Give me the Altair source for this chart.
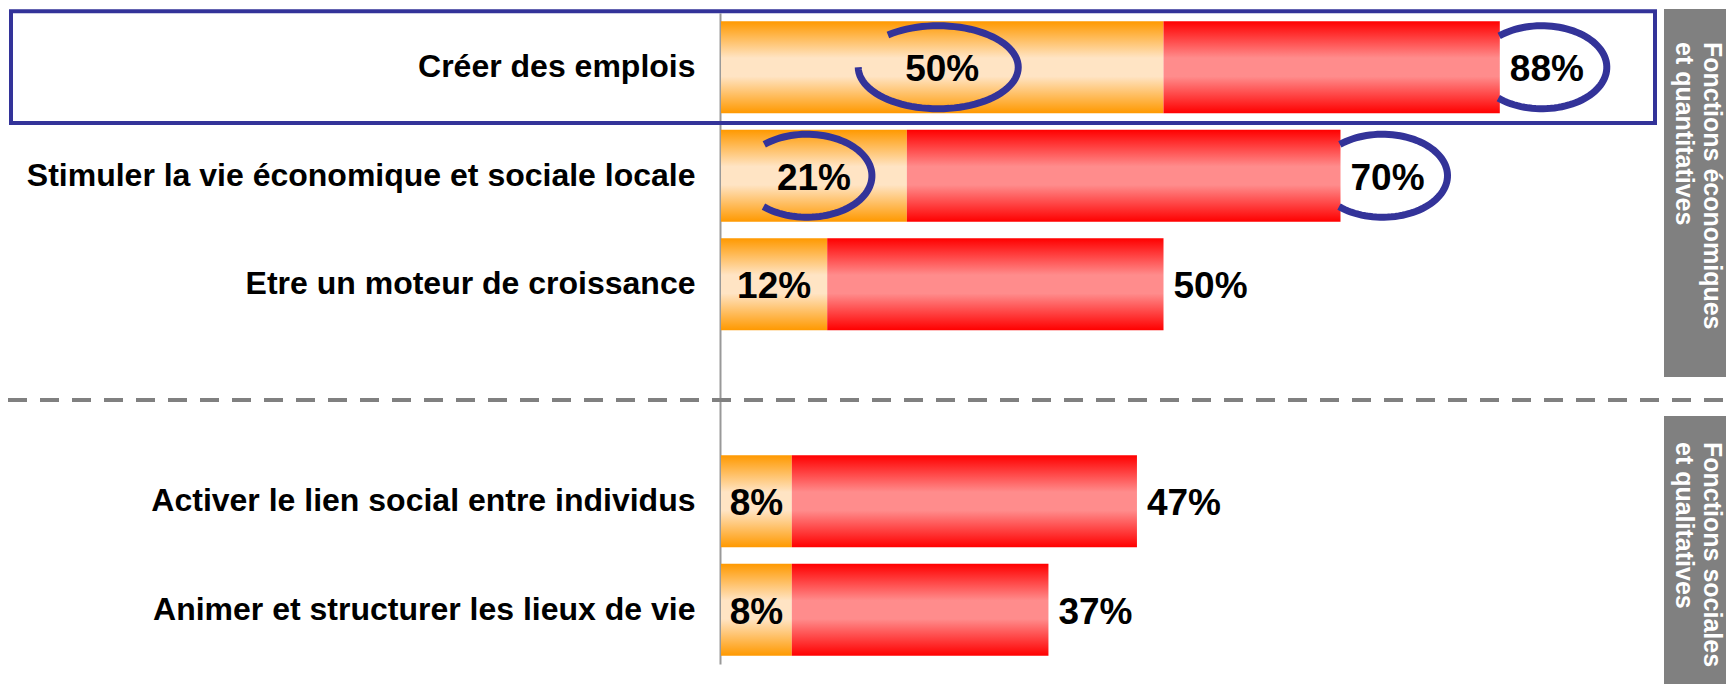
import altair as alt
import pandas as pd
import numpy as np

# ---------------- data ----------------
categories = [
    "Créer des emplois",
    "Stimuler la vie économique et sociale locale",
    "Etre un moteur de croissance",
    "Activer le lien social entre individus",
    "Animer et structurer les lieux de vie",
]
first_share = [50, 21, 12, 8, 8]      # orange part (%)
total_share = [88, 70, 50, 47, 37]    # end of red part (%)
ring_first = ["wide", "narrow", "", "", ""]   # ellipse around first value
ring_total = [True, True, False, False, False]  # ellipse around total value
spacer = " "
group_labels = ["Fonctions économiques\net quantitatives",
                "Fonctions sociales\net  qualitatives"]

df = pd.DataFrame({
    "cat": categories,
    "first": first_share,
    "total": total_share,
    "ring_first": ring_first,
    "ring_total": ring_total,
})
df["first_label"] = df["first"].astype(str) + "%"
df["total_label"] = df["total"].astype(str) + "%"

y_order = categories[:3] + [spacer] + categories[3:]

# ---------------- styling ----------------
FONT = "Liberation Sans"
NAVY = "#333399"
GREY = "#808080"
PX_PER_PCT = 8.85
PLOT_W = 1005
PLOT_H = 651

xscale = alt.Scale(domain=[0, PLOT_W / PX_PER_PCT], nice=False, zero=True)
yscale = alt.Scale(domain=y_order, paddingInner=0.152, paddingOuter=0.076)
yaxis = alt.Axis(title=None, labelFont=FONT, labelFontSize=32, labelFontWeight="bold",
                 labelColor="black", labelPadding=25, labelLimit=0, ticks=False, tickSize=0,
                 domainColor="#999999", domainWidth=2, offset=1, grid=False)
Y = alt.Y("cat:N", scale=yscale, axis=yaxis)


def grad(edge, mid):
    return alt.LinearGradient(
        gradient="linear",
        stops=[alt.GradientStop(color=edge, offset=0),
               alt.GradientStop(color=mid, offset=0.4),
               alt.GradientStop(color=mid, offset=0.6),
               alt.GradientStop(color=edge, offset=1)],
        x1=0, x2=0, y1=0, y2=1)


def ellipse_path(ry, t0, t1, n=80):
    ts = np.radians(np.linspace(t0, t1, n))
    pts = [f"{np.cos(t):.4f},{ry * np.sin(t):.4f}" for t in ts]
    return "M" + " L".join(pts)


HW_WIDE, HW_NARROW, HH = 80.0, 65.0, 41.5
PATH_WIDE = ellipse_path(HH / HW_WIDE, -129, 180)
PATH_NARROW = ellipse_path(HH / HW_NARROW, -131, 132)
RING_W = 7

base = alt.Chart(df)
one = pd.DataFrame({"d": [0]})

# ---------------- decorations ----------------
highlight = alt.Chart(one).mark_rect(fillOpacity=0, stroke=NAVY, strokeWidth=4).encode(
    x=alt.value(-710), x2=alt.value(934), y=alt.value(-1.7), y2=alt.value(110))
box1 = alt.Chart(one).mark_rect(color=GREY).encode(
    x=alt.value(943), x2=alt.value(PLOT_W), y=alt.value(-4), y2=alt.value(364))
box2 = alt.Chart(one).mark_rect(color=GREY).encode(
    x=alt.value(943), x2=alt.value(PLOT_W), y=alt.value(403), y2=alt.value(672))
dash = alt.Chart(one).mark_rule(color=GREY, strokeWidth=4, strokeDash=[19, 13]).encode(
    x=alt.value(-713), x2=alt.value(PLOT_W), y=alt.value(387))

side_style = dict(angle=90, align="left", baseline="middle", lineBreak="\n", lineHeight=28,
                  font=FONT, fontSize=25, fontWeight="bold", color="white")
side1 = alt.Chart(pd.DataFrame({"t": [group_labels[0]]})).mark_text(**side_style).encode(
    x=alt.value(991), y=alt.value(29), text="t:N")
side2 = alt.Chart(pd.DataFrame({"t": [group_labels[1]]})).mark_text(**side_style).encode(
    x=alt.value(991), y=alt.value(429), text="t:N")

# ---------------- bars ----------------
orange_bars = base.mark_bar(fill=grad("#ff9900", "#ffe4c4")).encode(
    x=alt.X("first:Q", scale=xscale, axis=None), y=Y)
red_bars = base.mark_bar(fill=grad("#ff0000", "#ff8c8c")).encode(
    x=alt.X("first:Q", scale=xscale, axis=None), x2="total:Q", y=Y)

# ---------------- ellipses ----------------
ring_style = dict(filled=False, stroke=NAVY, strokeWidth=RING_W, opacity=1)
ring_wide = base.transform_filter(alt.datum.ring_first == "wide").transform_calculate(
    mid="datum.first / 2").mark_point(
    shape=PATH_WIDE, size=(2 * HW_WIDE) ** 2, xOffset=-4, **ring_style).encode(
    x=alt.X("mid:Q", scale=xscale, axis=None), y=Y, strokeWidth=alt.value(RING_W))
ring_narrow = base.transform_filter(alt.datum.ring_first == "narrow").transform_calculate(
    mid="datum.first / 2").mark_point(
    shape=PATH_NARROW, size=(2 * HW_NARROW) ** 2, xOffset=-7, **ring_style).encode(
    x=alt.X("mid:Q", scale=xscale, axis=None), y=Y, strokeWidth=alt.value(RING_W))
ring_tot = base.transform_filter(alt.datum.ring_total).mark_point(
    shape=PATH_NARROW, size=(2 * HW_NARROW) ** 2, xOffset=42, **ring_style).encode(
    x=alt.X("total:Q", scale=xscale, axis=None), y=Y, strokeWidth=alt.value(RING_W))

# ---------------- value labels ----------------
first_text = base.transform_calculate(mid="datum.first / 2").mark_text(
    font=FONT, fontSize=37, fontWeight="bold", color="black", align="center",
    baseline="middle", dy=3).encode(
    x=alt.X("mid:Q", scale=xscale, axis=None), y=Y, text="first_label:N")
total_text = base.mark_text(
    font=FONT, fontSize=37, fontWeight="bold", color="black", align="left",
    baseline="middle", dx=10, dy=3).encode(
    x=alt.X("total:Q", scale=xscale, axis=None), y=Y, text="total_label:N")

chart = alt.layer(
    highlight, box1, box2, dash,
    orange_bars, red_bars,
    ring_wide, ring_narrow, ring_tot,
    first_text, total_text,
    side1, side2,
).properties(
    width=PLOT_W, height=PLOT_H,
    padding={"left": 713, "top": 5, "right": 0, "bottom": 20},
    autosize=alt.AutoSizeParams(type="none"),
).configure_view(stroke=None)

chart.save("out.html", embed_options={"renderer": "svg", "actions": False})
